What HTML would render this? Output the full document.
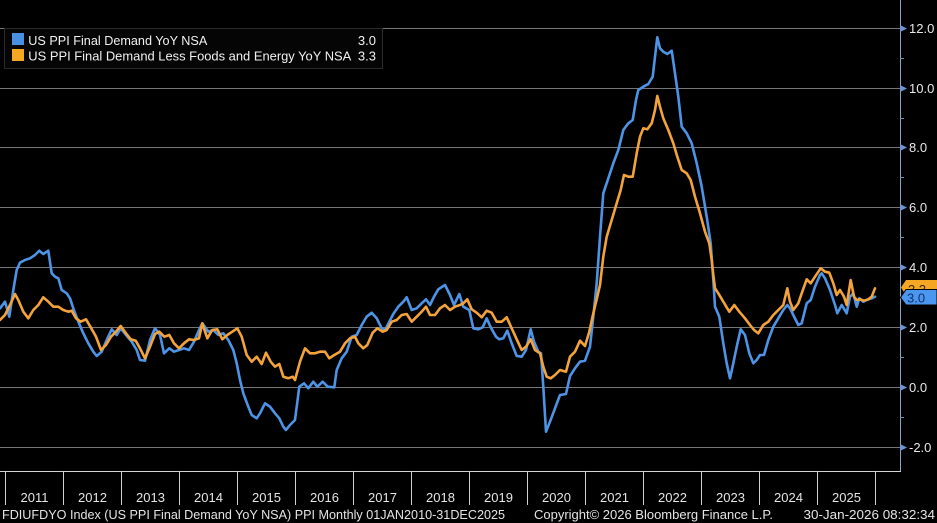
<!DOCTYPE html>
<html>
<head>
<meta charset="utf-8">
<style>
html,body{margin:0;padding:0;background:#000;}
svg{display:block;}
text{font-family:"Liberation Sans","DejaVu Sans",sans-serif;}
</style>
</head>
<body>
<svg width="937" height="523" viewBox="0 0 937 523" xmlns="http://www.w3.org/2000/svg">
<rect x="0" y="0" width="937" height="523" fill="#000"/>
<!-- grid -->
<g stroke="#767676" stroke-width="1">
<line x1="0" y1="28.5" x2="900" y2="28.5"/>
<line x1="0" y1="88.5" x2="900" y2="88.5"/>
<line x1="0" y1="147.5" x2="900" y2="147.5"/>
<line x1="0" y1="207.5" x2="900" y2="207.5"/>
<line x1="0" y1="267.5" x2="900" y2="267.5"/>
<line x1="0" y1="327.5" x2="900" y2="327.5"/>
<line x1="0" y1="387.5" x2="900" y2="387.5"/>
<line x1="0" y1="447.5" x2="900" y2="447.5"/>
</g>
<!-- series -->
<polyline fill="none" stroke="#4d93e6" stroke-width="2.6" stroke-linejoin="round" stroke-linecap="round" points="0,308.3 5,301.7 9.3,316.7 13.3,290 16.7,270 20,262.7 25,260 30,258.3 35,255 39.3,250.7 43.3,254 48.3,250.7 51.7,273.3 55,276.7 58.3,278.3 61.7,290 66.7,293.3 70,298.3 73.3,308.3 78.3,321.7 83.3,333.3 88.3,343.3 93.3,351.7 96.7,356 101.7,351.7 106.7,340 111.7,329.3 116.7,335 120.7,328.3 126,335 131.7,341.7 136.7,350 140,360 145,360.7 150,340 155,328.3 160,335 164,353.3 169.3,348.3 174,351.7 179,350 184,348.3 189,350 194,341.7 199,330 202.3,323.3 208.3,331.7 213.3,330 218.3,335 223.3,333.3 228.3,340 233.3,350 236.7,363.3 240,380 243.3,393.3 248.3,406.7 251.7,415 256.7,418.3 260,413.3 265,403.3 270,406.7 275,413.3 279.3,418.3 283.3,426.7 286,430 290,425 295,420 299.3,386.7 304,383.3 308.3,388.3 313.3,381.7 317.3,386.7 322.7,381.7 327.7,386.7 334.3,387.3 336.7,370 341.7,358.3 346.7,351.7 351.7,336.7 356.7,335 361.7,325 366.7,316.7 371.7,312.7 376.7,318.3 381.7,328.3 385,330 389.3,321.7 393.3,314 398.3,306.7 403.3,301.7 406.7,297.3 411.7,310 416.7,308.3 421.7,303.3 426,299.3 430,305 434,296.7 438.3,289.3 445,285 450,295 454,305 459.3,294 463.3,306.7 469.3,310 473.3,328.3 478.3,329.3 482.7,327.3 486.7,318.3 490.7,327.3 496,336.7 499.3,339.3 503.3,338.3 507.3,330.7 511.7,343.3 516.7,356 521.7,356.7 526,350 530.7,329.3 534,341.7 538.3,351.7 541,353.3 543.3,386.7 546,431.7 550,421.7 555,408.3 560,395 566,394 570,376 575,368.3 580,361.7 585,360.7 590,346.7 593.3,316.7 596.7,283.3 600,236.7 603.3,193.3 608.3,178.3 613.3,163.3 618.3,150 623.3,130 628.3,123.3 632.7,120 636,100 638.3,90 643.3,86.7 648.3,84 652.7,76.7 655,56.7 657.3,37.3 660,48.3 663.3,51.7 667.3,54 671.7,50.7 675,73.3 678.3,96.7 681.7,126.7 686.7,133.3 691.7,143.3 696.7,163.3 701.7,186.7 706.7,216.7 710.7,243.3 713.3,280 715,306.7 719.3,316.7 723.3,343.3 726.7,363.3 730,378.3 733.3,363.3 736.7,346.7 740.7,329.3 745,335 749.3,353.3 753.3,363.3 756.7,360 760,355 764,355 768.3,340 773.3,326.7 778.3,318.3 783.3,310 787.3,305 790,308.3 793.3,315 798.3,325 801.7,323.3 806.7,303.3 810.7,300 815,286.7 820,275 821.7,273.3 825,278.3 830,290 835,305 837.3,313.3 841.7,305 846.7,313.3 850,296.7 853.3,293.3 856.7,306.7 859.3,298.3 863.3,301.7 866.7,300 871.7,298.3 875,296.7"/>
<polyline fill="none" stroke="#f3a33a" stroke-width="2.6" stroke-linejoin="round" stroke-linecap="round" points="0,320 5,315 10,305 15,294 18.3,300 23.3,311.7 28.3,318.3 33.3,310 38.3,305 43.3,297.3 48.3,301.7 53.3,306.7 58.3,306.7 63.3,310 68.3,311.7 71.7,310.7 76,318.3 80.7,321.7 86,319.3 90.7,327.3 96,336.7 101,350 106,345 111,336.7 116,331.7 120.7,326 126,333.3 130.7,339.3 135.7,340.7 140,348.3 145,358.3 150,346.7 155,334 159.3,331.7 164.3,336.7 169.3,335 174,343.3 179,348.3 184,343.3 189,339.3 194,340 199,338.3 202.3,323.3 207.3,338.3 212.3,330 217.3,329.3 222.3,339.3 227.3,335 232.3,331.7 237.3,328.3 241.7,336.7 246.7,355 251.7,361.7 256.7,356.7 261.7,364 266,352.7 270.7,361.7 275,366.7 279.3,364 283.3,376.7 288.3,378.3 292.7,376.7 295,380 300,361.7 305,348.3 310,353.3 315,353.3 320,351.7 325,351.7 329.3,358.3 334.3,355 340,351.7 345,343.3 350,338.3 355,336.7 358.3,343.3 363.3,348.3 367.3,345 372.7,332.7 377.3,328.3 382.7,331.7 386.7,330 391.7,321.7 396.7,320 401.7,315 406.7,314 411.7,321.7 416.7,316.7 421.7,311.7 426,306.7 430,315 435,315 440,308.3 445,305 450,310 455,306.7 460,305 463.3,303.3 467.3,299.3 471.7,309.3 476.7,312.7 481.7,317.3 486.7,310.7 491.7,312.7 496.7,321.7 501.7,321.7 506.7,317.3 511.7,328.3 516.7,339.3 521.7,350 526,346.7 530.7,339.3 535,350 540,353.3 543.3,366.7 546.7,376.7 550.7,378.3 555,375 560,370 566,371.7 570,356.7 575,351.7 580,340.7 585,346 589.3,331.7 593.3,313.3 597.3,296.7 600,285 603.3,256.7 606.7,236.7 611.7,220 616.7,203.3 620.7,190 624,175 628.3,176.7 632.7,176.7 636.7,153.3 640,136.7 643.3,128.3 647.3,129.3 651.7,123.3 655,110 657.3,96 660,106.7 663.3,118.3 668.3,130 673.3,143.3 677.3,156.7 681.7,170 686.7,173.3 690.7,180 695,196.7 700,213.3 705,231.7 709.3,243.3 711.7,260 713.3,275 715,288.3 718.3,293.3 723.3,301.7 729.3,311.7 734.3,305 739.3,311.7 745,318.3 750,325 754,330 758.3,333.3 763.3,325 768.3,321.7 773.3,315 778.3,310 783.3,305 787.3,288.3 790,301.7 793.3,310 798.3,303.3 801.7,293.3 806.7,279.3 810.7,283.3 815,276.7 820.7,268.3 825,271.7 829.3,272.7 833.3,283.3 836.7,295 840,290 844,296.7 846.7,305 850.7,280 854,296.7 856.7,300 860,299.3 864,300.7 868.3,299.3 871.7,296.7 875,288.3"/>
<!-- legend -->
<rect x="4.5" y="28.5" width="378" height="40" fill="#050505" stroke="#2a2a2a" stroke-width="1"/>
<rect x="12" y="33" width="12" height="12" fill="#4a90e2"/>
<rect x="12" y="49" width="12" height="12" fill="#f5a623"/>
<text x="28.3" y="45" font-size="13" fill="#f0f0f0" textLength="179" lengthAdjust="spacingAndGlyphs">US PPI Final Demand YoY NSA</text>
<text x="376" y="45" font-size="13" fill="#f0f0f0" text-anchor="end">3.0</text>
<text x="28.3" y="60.5" font-size="13" fill="#f0f0f0" textLength="323" lengthAdjust="spacingAndGlyphs">US PPI Final Demand Less Foods and Energy YoY NSA</text>
<text x="376" y="60.5" font-size="13" fill="#f0f0f0" text-anchor="end">3.3</text>
<!-- axes -->
<line x1="900.5" y1="0" x2="900.5" y2="472" stroke="#8ea2c4" stroke-width="1"/>
<line x1="0" y1="471.5" x2="901" y2="471.5" stroke="#d4d4d4" stroke-width="1"/>
<g fill="#6f94d6">
<polygon points="900,25 907,28.5 900,32"/>
<polygon points="900,85 907,88.5 900,92"/>
<polygon points="900,144 907,147.5 900,151"/>
<polygon points="900,204 907,207.5 900,211"/>
<polygon points="900,264 907,267.5 900,271"/>
<polygon points="900,324 907,327.5 900,331"/>
<polygon points="900,384 907,387.5 900,391"/>
<polygon points="900,444 907,447.5 900,451"/>
</g>
<g stroke="#7d8fb0" stroke-width="1">
<line x1="900" y1="58.5" x2="904" y2="58.5"/>
<line x1="900" y1="118.5" x2="904" y2="118.5"/>
<line x1="900" y1="177.5" x2="904" y2="177.5"/>
<line x1="900" y1="237.5" x2="904" y2="237.5"/>
<line x1="900" y1="357.5" x2="904" y2="357.5"/>
<line x1="900" y1="417.5" x2="904" y2="417.5"/>
</g>
<g font-size="13" fill="#e8e8e8">
<text x="909" y="33">12.0</text>
<text x="909" y="93">10.0</text>
<text x="909" y="152">8.0</text>
<text x="909" y="212">6.0</text>
<text x="909" y="272">4.0</text>
<text x="909" y="392">0.0</text>
<text x="909" y="452">-2.0</text>
<text x="909" y="332">2.0</text>
</g>
<!-- last value labels -->
<polygon points="901,287.5 906,280 937,280 937,295 906,295" fill="#f5a623"/>
<text x="908" y="294" font-size="13" fill="#3a2800">3.3</text>
<polygon points="900.5,297.5 906,289.5 937,289.5 937,305 906,305" fill="#4b97f0" stroke="#000" stroke-width="1"/>
<text x="907" y="302.5" font-size="13" fill="#14306a">3.0</text>
<!-- year separators -->
<g stroke="#d0d0d0" stroke-width="1">
<line x1="5.5" y1="471" x2="5.5" y2="505"/>
<line x1="63.5" y1="471" x2="63.5" y2="505"/>
<line x1="121.5" y1="471" x2="121.5" y2="505"/>
<line x1="179.5" y1="471" x2="179.5" y2="505"/>
<line x1="237.5" y1="471" x2="237.5" y2="505"/>
<line x1="295.5" y1="471" x2="295.5" y2="505"/>
<line x1="353.5" y1="471" x2="353.5" y2="505"/>
<line x1="411.5" y1="471" x2="411.5" y2="505"/>
<line x1="469.5" y1="471" x2="469.5" y2="505"/>
<line x1="527.5" y1="471" x2="527.5" y2="505"/>
<line x1="585.5" y1="471" x2="585.5" y2="505"/>
<line x1="643.5" y1="471" x2="643.5" y2="505"/>
<line x1="701.5" y1="471" x2="701.5" y2="505"/>
<line x1="759.5" y1="471" x2="759.5" y2="505"/>
<line x1="817.5" y1="471" x2="817.5" y2="505"/>
<line x1="875.5" y1="471" x2="875.5" y2="505"/>
</g>
<g font-size="13" fill="#e4e4e4" text-anchor="middle">
<text x="34.5" y="502">2011</text>
<text x="92.5" y="502">2012</text>
<text x="150.5" y="502">2013</text>
<text x="208.5" y="502">2014</text>
<text x="266.5" y="502">2015</text>
<text x="324.5" y="502">2016</text>
<text x="382.5" y="502">2017</text>
<text x="440.5" y="502">2018</text>
<text x="498.5" y="502">2019</text>
<text x="556.5" y="502">2020</text>
<text x="614.5" y="502">2021</text>
<text x="672.5" y="502">2022</text>
<text x="730.5" y="502">2023</text>
<text x="788.5" y="502">2024</text>
<text x="846.5" y="502">2025</text>
</g>
<!-- footer -->
<g font-size="13" fill="#e4e4e4">
<text x="2" y="519" textLength="503" lengthAdjust="spacingAndGlyphs">FDIUFDYO Index (US PPI Final Demand YoY NSA) PPI Monthly 01JAN2010-31DEC2025</text>
<text x="534" y="519" textLength="239" lengthAdjust="spacingAndGlyphs">Copyright© 2026 Bloomberg Finance L.P.</text>
<text x="803.5" y="519" textLength="131.5" lengthAdjust="spacingAndGlyphs">30-Jan-2026 08:32:34</text>
</g>
</svg>
</body>
</html>
